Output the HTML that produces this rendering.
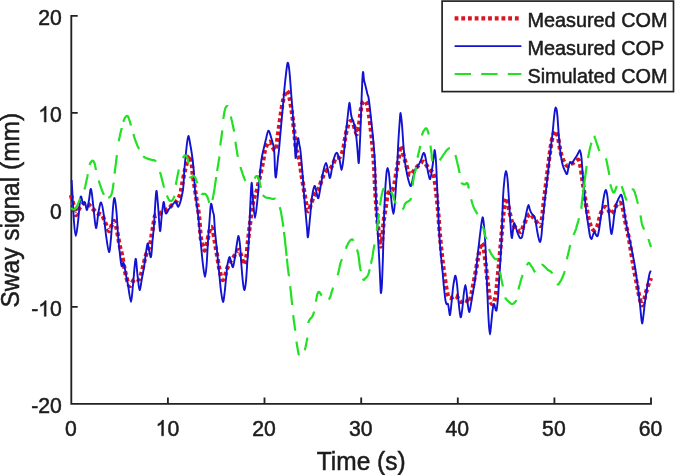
<!DOCTYPE html>
<html><head><meta charset="utf-8">
<style>
html,body{margin:0;padding:0;background:#fff;}
body{width:675px;height:475px;overflow:hidden;}
svg{display:block;will-change:transform;}
text{font-family:"Liberation Sans",sans-serif;fill:#1c1c1c;stroke:#1c1c1c;stroke-width:0.5px;}
</style></head><body>
<svg width="675" height="475" viewBox="0 0 675 475">
<rect width="675" height="475" fill="#fff"/>
<!-- axes -->
<g stroke="#222" stroke-width="1.85" fill="none">
<path d="M71.3,14.97V403.8H651.92" stroke-linejoin="miter"/>
<path d="M71.3,15.9h6.4M71.3,112.9h6.4M71.3,209.9h6.4M71.3,306.8h6.4"/>
<path d="M167.9,403.8v-6.4M264.5,403.8v-6.4M361.2,403.8v-6.4M457.8,403.8v-6.4M554.4,403.8v-6.4M651.0,403.8v-6.4"/>
</g>
<text transform="translate(61.8 24.8) scale(1 1.06)" font-size="21.2" text-anchor="end">20</text>
<text transform="translate(61.8 122.0) scale(1 1.06)" font-size="21.2" text-anchor="end">0</text>
<path d="M763 0H583V-1147Q518-1085 412.5-1023Q307-961 223-930V-1104Q374-1175 487-1276Q600-1377 647-1472H763Z" transform="translate(38.22 121.98) scale(0.01035 0.01066)" fill="#1c1c1c" stroke="#1c1c1c" stroke-width="48.3"/>
<text transform="translate(61.8 219.2) scale(1 1.06)" font-size="21.2" text-anchor="end">0</text>
<text transform="translate(61.8 316.3) scale(1 1.06)" font-size="21.2" text-anchor="end">0</text>
<path d="M763 0H583V-1147Q518-1085 412.5-1023Q307-961 223-930V-1104Q374-1175 487-1276Q600-1377 647-1472H763Z" transform="translate(38.22 316.32) scale(0.01035 0.01066)" fill="#1c1c1c" stroke="#1c1c1c" stroke-width="48.3"/>
<text transform="translate(38.2 316.3) scale(1 1.06)" font-size="21.2" text-anchor="end">-</text>
<text transform="translate(61.8 413.2) scale(1 1.06)" font-size="21.2" text-anchor="end">-20</text>
<text transform="translate(70.8 435.8) scale(1 1.06)" font-size="21.2" text-anchor="middle">0</text>
<path d="M763 0H583V-1147Q518-1085 412.5-1023Q307-961 223-930V-1104Q374-1175 487-1276Q600-1377 647-1472H763Z" transform="translate(155.63 435.80) scale(0.01035 0.01066)" fill="#1c1c1c" stroke="#1c1c1c" stroke-width="48.3"/>
<text transform="translate(167.4 435.8) scale(1 1.06)" font-size="21.2" text-anchor="start">0</text>
<text transform="translate(264.0 435.8) scale(1 1.06)" font-size="21.2" text-anchor="middle">20</text>
<text transform="translate(360.7 435.8) scale(1 1.06)" font-size="21.2" text-anchor="middle">30</text>
<text transform="translate(457.3 435.8) scale(1 1.06)" font-size="21.2" text-anchor="middle">40</text>
<text transform="translate(553.9 435.8) scale(1 1.06)" font-size="21.2" text-anchor="middle">50</text>
<text transform="translate(650.5 435.8) scale(1 1.06)" font-size="21.2" text-anchor="middle">60</text>
<text transform="translate(361.2 470.3) scale(1 1.045)" font-size="24.5" text-anchor="middle">Time (s)</text>
<text transform="translate(19.3 210.2) rotate(-90) scale(1 1.045)" font-size="24.5" text-anchor="middle">Sway signal (mm)</text>
<!-- curves -->
<g fill="none" stroke-linejoin="round">
<path d="M71.0,195.0C71.3,196.3 72.2,199.7 73.0,203.0C73.8,206.3 74.6,214.0 75.6,215.0C76.6,216.0 77.8,210.8 79.0,209.0C80.2,207.2 81.7,205.0 83.0,204.0C84.3,203.0 85.5,202.3 87.0,203.0C88.5,203.7 90.3,206.3 92.0,208.0C93.7,209.7 95.3,211.8 97.0,213.0C98.7,214.2 100.7,213.5 102.0,215.0C103.3,216.5 103.8,219.3 105.0,222.0C106.2,224.7 107.9,230.3 109.0,231.0C110.1,231.7 110.7,227.7 111.5,226.0C112.3,224.3 113.2,221.0 114.0,221.0C114.8,221.0 115.3,223.5 116.0,226.0C116.7,228.5 117.4,232.8 118.0,236.0C118.6,239.2 118.9,241.8 119.6,245.0C120.3,248.2 121.1,250.7 122.0,255.0C122.9,259.3 124.0,266.3 125.0,271.0C126.0,275.7 127.2,280.5 128.0,283.0C128.8,285.5 129.2,286.2 130.0,286.0C130.8,285.8 131.7,283.2 132.5,282.0C133.3,280.8 134.1,279.4 135.0,279.0C135.9,278.6 137.2,279.7 138.0,279.5C138.8,279.3 139.2,280.1 140.0,278.0C140.8,275.9 142.0,270.8 143.0,267.0C144.0,263.2 144.8,258.7 146.0,255.0C147.2,251.3 149.0,248.7 150.0,245.0C151.0,241.3 151.4,236.5 152.0,233.0C152.6,229.5 153.0,226.8 153.5,224.0C154.0,221.2 154.4,217.6 155.0,216.0C155.6,214.4 156.3,214.9 157.0,214.6C157.7,214.3 158.0,215.0 159.0,214.4C160.0,213.8 161.5,211.9 163.0,211.0C164.5,210.1 166.5,210.0 168.0,209.0C169.5,208.0 170.7,206.2 172.0,205.0C173.3,203.8 174.7,203.7 176.0,202.0C177.3,200.3 179.0,197.8 180.0,195.0C181.0,192.2 181.2,189.2 182.0,185.0C182.8,180.8 184.0,174.3 185.0,170.0C186.0,165.7 187.2,161.3 188.0,159.0C188.8,156.7 189.3,154.8 190.0,156.0C190.7,157.2 191.5,162.7 192.0,166.0C192.5,169.3 192.3,171.0 193.0,176.0C193.7,181.0 195.0,189.3 196.0,196.0C197.0,202.7 198.2,208.8 199.0,216.0C199.8,223.2 200.2,233.5 201.0,239.0C201.8,244.5 203.3,247.2 204.0,249.0C204.7,250.8 204.5,251.0 205.0,250.0C205.5,249.0 206.3,245.8 207.0,243.0C207.7,240.2 208.3,235.7 209.0,233.0C209.7,230.3 210.3,227.3 211.0,227.0C211.7,226.7 212.3,228.3 213.0,231.0C213.7,233.7 214.3,239.0 215.0,243.0C215.7,247.0 216.3,251.0 217.0,255.0C217.7,259.0 218.3,263.5 219.0,267.0C219.7,270.5 220.3,273.8 221.0,276.0C221.7,278.2 222.3,280.0 223.0,280.0C223.7,280.0 224.3,277.8 225.0,276.0C225.7,274.2 226.2,271.3 227.0,269.0C227.8,266.7 229.0,263.8 230.0,262.0C231.0,260.2 232.0,259.5 233.0,258.0C234.0,256.5 235.1,254.3 236.0,253.0C236.9,251.7 237.8,249.7 238.6,250.0C239.4,250.3 240.2,252.8 241.0,255.0C241.8,257.2 242.7,261.5 243.4,263.0C244.1,264.5 244.5,265.3 245.0,264.0C245.5,262.7 246.1,258.8 246.6,255.0C247.1,251.2 247.5,245.3 248.0,241.0C248.5,236.7 249.0,232.5 249.4,229.0C249.8,225.5 250.1,223.5 250.5,220.0C250.9,216.5 251.4,211.7 252.0,208.0C252.6,204.3 253.2,201.0 254.0,198.0C254.8,195.0 256.0,193.7 257.0,190.0C258.0,186.3 259.0,180.7 260.0,176.0C261.0,171.3 262.2,166.3 263.0,162.0C263.8,157.7 264.2,153.2 265.0,150.0C265.8,146.8 267.2,144.3 268.0,143.0C268.8,141.7 269.3,141.5 270.0,142.0C270.7,142.5 271.2,144.7 272.0,146.0C272.8,147.3 273.8,149.5 274.5,150.0C275.2,150.5 275.5,150.8 276.0,149.0C276.5,147.2 276.9,142.7 277.4,139.0C277.9,135.3 278.4,131.3 279.0,127.0C279.6,122.7 280.3,117.7 281.0,113.0C281.7,108.3 282.6,102.5 283.4,99.0C284.2,95.5 285.3,93.3 286.0,92.0C286.7,90.7 286.8,90.2 287.4,91.0C288.0,91.8 288.7,94.0 289.4,97.0C290.1,100.0 290.8,105.0 291.4,109.0C292.0,113.0 292.5,116.7 293.0,121.0C293.5,125.3 294.1,130.3 294.6,135.0C295.1,139.7 295.4,145.8 296.0,149.0C296.6,152.2 297.3,151.5 298.0,154.0C298.7,156.5 299.3,160.0 300.0,164.0C300.7,168.0 301.2,173.0 302.0,178.0C302.8,183.0 303.8,189.0 304.6,194.0C305.4,199.0 306.3,205.2 307.0,208.0C307.7,210.8 307.9,211.7 308.6,211.0C309.3,210.3 310.1,206.5 311.0,204.0C311.9,201.5 313.0,198.2 314.0,196.0C315.0,193.8 316.2,192.3 317.0,191.0C317.8,189.7 318.3,189.5 319.0,188.0C319.7,186.5 320.2,184.3 321.0,182.0C321.8,179.7 323.0,176.0 324.0,174.0C325.0,172.0 326.0,170.8 327.0,170.0C328.0,169.2 329.0,170.0 330.0,169.0C331.0,168.0 332.0,165.8 333.0,164.0C334.0,162.2 334.8,159.2 336.0,158.0C337.2,156.8 338.8,158.3 340.0,157.0C341.2,155.7 342.2,153.0 343.0,150.0C343.8,147.0 344.3,142.5 345.0,139.0C345.7,135.5 346.3,131.7 347.0,129.0C347.7,126.3 348.3,124.3 349.0,123.0C349.7,121.7 350.3,121.0 351.0,121.0C351.7,121.0 352.3,121.7 353.0,123.0C353.7,124.3 354.3,127.2 355.0,129.0C355.7,130.8 356.3,134.7 357.0,134.0C357.7,133.3 358.4,128.5 359.0,125.0C359.6,121.5 359.9,116.5 360.4,113.0C360.9,109.5 361.3,106.0 362.0,104.0C362.7,102.0 363.6,101.0 364.4,101.0C365.2,101.0 366.2,101.7 367.0,104.0C367.8,106.3 368.3,110.5 369.0,115.0C369.7,119.5 370.4,126.0 371.0,131.0C371.6,136.0 372.0,140.3 372.4,145.0C372.8,149.7 373.3,154.5 373.6,159.0C373.9,163.5 374.2,167.5 374.4,172.0C374.6,176.5 374.7,180.0 375.0,186.0C375.3,192.0 375.9,201.3 376.4,208.0C376.9,214.7 377.5,220.8 378.0,226.0C378.5,231.2 379.1,235.6 379.6,239.0C380.1,242.4 380.5,246.8 381.0,246.5C381.5,246.2 382.0,241.1 382.4,237.0C382.8,232.9 383.1,226.8 383.6,222.0C384.1,217.2 384.9,212.5 385.6,208.0C386.3,203.5 386.9,197.8 387.6,195.0C388.3,192.2 389.2,191.8 390.0,191.0C390.8,190.2 391.7,191.2 392.4,190.0C393.1,188.8 393.7,187.0 394.4,184.0C395.1,181.0 395.7,176.0 396.4,172.0C397.1,168.0 397.7,164.2 398.4,160.0C399.1,155.8 399.8,148.3 400.4,146.5C401.0,144.7 401.4,147.2 402.0,149.0C402.6,150.8 403.3,154.5 404.0,157.0C404.7,159.5 405.3,161.5 406.0,164.0C406.7,166.5 407.7,170.2 408.4,172.0C409.1,173.8 409.6,175.0 410.4,175.0C411.2,175.0 412.1,173.2 413.0,172.0C413.9,170.8 415.0,169.2 416.0,168.0C417.0,166.8 418.0,166.0 419.0,165.0C420.0,164.0 421.1,162.5 422.0,162.0C422.9,161.5 423.6,161.3 424.4,162.0C425.2,162.7 426.1,164.7 427.0,166.0C427.9,167.3 429.1,169.0 430.0,170.0C430.9,171.0 431.7,171.0 432.4,172.0C433.1,173.0 433.5,173.5 434.0,176.0C434.5,178.5 435.1,183.0 435.6,187.0C436.1,191.0 436.5,195.3 437.0,200.0C437.5,204.7 437.9,209.0 438.4,215.0C438.9,221.0 439.4,229.2 440.0,236.0C440.6,242.8 441.3,250.0 442.0,256.0C442.7,262.0 443.3,267.0 444.0,272.0C444.7,277.0 445.3,282.0 446.0,286.0C446.7,290.0 447.3,294.0 448.0,296.0C448.7,298.0 449.2,297.8 450.0,298.0C450.8,298.2 452.0,297.4 453.0,297.0C454.0,296.6 455.0,295.0 456.0,295.5C457.0,296.0 458.2,298.9 459.0,300.0C459.8,301.1 460.2,302.0 461.0,302.0C461.8,302.0 463.0,300.2 464.0,300.0C465.0,299.8 466.1,300.7 467.0,301.0C467.9,301.3 468.7,303.2 469.4,302.0C470.1,300.8 470.7,297.0 471.4,294.0C472.1,291.0 472.6,288.0 473.4,284.0C474.2,280.0 475.2,274.3 476.0,270.0C476.8,265.7 477.3,261.7 478.0,258.0C478.7,254.3 479.3,250.5 480.0,248.0C480.7,245.5 481.3,242.7 482.0,243.0C482.7,243.3 483.4,246.8 484.0,250.0C484.6,253.2 484.9,257.7 485.4,262.0C485.9,266.3 486.5,271.3 487.0,276.0C487.5,280.7 488.1,286.0 488.6,290.0C489.1,294.0 489.4,297.7 490.0,300.0C490.6,302.3 491.3,303.7 492.0,304.0C492.7,304.3 493.3,303.7 494.0,302.0C494.7,300.3 495.4,297.7 496.0,294.0C496.6,290.3 496.9,285.0 497.4,280.0C497.9,275.0 498.5,269.7 499.0,264.0C499.5,258.3 500.1,251.7 500.6,246.0C501.1,240.3 501.5,235.3 502.0,230.0C502.5,224.7 502.9,218.7 503.4,214.0C503.9,209.3 504.5,204.7 505.0,202.0C505.5,199.3 505.9,197.7 506.4,198.0C506.9,198.3 507.4,201.3 508.0,204.0C508.6,206.7 509.3,211.0 510.0,214.0C510.7,217.0 511.2,219.8 512.0,222.0C512.8,224.2 514.0,225.7 515.0,227.0C516.0,228.3 517.0,229.2 518.0,230.0C519.0,230.8 520.2,232.5 521.0,232.0C521.8,231.5 522.3,228.7 523.0,227.0C523.7,225.3 524.3,223.7 525.0,222.0C525.7,220.3 526.2,218.3 527.0,217.0C527.8,215.7 529.0,214.0 530.0,214.0C531.0,214.0 532.0,215.8 533.0,217.0C534.0,218.2 535.0,219.7 536.0,221.0C537.0,222.3 538.2,224.3 539.0,225.0C539.8,225.7 540.3,226.4 540.8,225.4C541.3,224.4 541.6,222.1 542.0,219.0C542.4,215.9 542.7,211.6 543.2,207.0C543.7,202.4 544.4,197.2 545.1,191.5C545.8,185.8 546.6,178.7 547.4,172.6C548.1,166.5 549.0,159.6 549.6,155.0C550.2,150.4 550.6,147.8 551.0,145.0C551.4,142.2 551.8,140.3 552.2,138.5C552.6,136.7 553.0,135.4 553.4,134.3C553.8,133.2 554.2,132.5 554.6,132.0C555.0,131.5 555.2,130.6 555.8,131.4C556.4,132.2 557.3,134.1 558.0,137.0C558.7,139.9 559.3,145.7 560.0,149.0C560.7,152.3 561.2,154.8 562.0,157.0C562.8,159.2 563.6,161.0 564.5,162.5C565.4,164.0 566.6,165.7 567.5,166.0C568.4,166.3 569.1,165.0 570.0,164.5C570.9,164.0 572.0,163.6 573.0,163.0C574.0,162.4 575.1,161.5 576.0,161.0C576.9,160.5 577.9,159.2 578.6,160.0C579.3,160.8 579.8,163.2 580.4,166.0C581.0,168.8 581.5,173.3 582.0,177.0C582.5,180.7 583.0,183.8 583.6,188.0C584.2,192.2 584.9,197.7 585.6,202.0C586.3,206.3 586.9,210.3 587.6,214.0C588.3,217.7 589.2,221.5 590.0,224.0C590.8,226.5 591.7,228.0 592.4,229.0C593.1,230.0 593.6,230.3 594.4,230.0C595.2,229.7 596.2,228.7 597.0,227.0C597.8,225.3 598.3,222.3 599.0,220.0C599.7,217.7 600.2,215.0 601.0,213.0C601.8,211.0 602.8,209.0 603.6,208.0C604.4,207.0 605.2,206.7 606.0,207.0C606.8,207.3 607.6,208.8 608.4,210.0C609.2,211.2 610.1,213.8 611.0,214.0C611.9,214.2 612.8,212.3 613.6,211.0C614.4,209.7 615.2,207.3 616.0,206.0C616.8,204.7 617.7,203.5 618.4,203.0C619.1,202.5 619.7,202.3 620.4,203.0C621.1,203.7 621.7,204.8 622.4,207.0C623.1,209.2 623.8,212.8 624.4,216.0C625.0,219.2 625.4,222.2 626.2,226.0C627.0,229.8 628.1,234.2 629.0,239.0C629.9,243.8 630.8,250.0 631.6,255.0C632.4,260.0 633.1,264.0 634.0,269.0C634.9,274.0 636.2,280.7 637.0,285.0C637.8,289.3 638.3,292.0 639.0,295.0C639.7,298.0 640.4,301.3 641.0,303.0C641.6,304.7 641.8,305.7 642.4,305.0C643.0,304.3 643.6,301.7 644.4,299.0C645.2,296.3 646.2,291.7 647.0,289.0C647.8,286.3 648.3,284.8 649.0,283.0C649.7,281.2 650.7,278.8 651.0,278.0" stroke="#dc1420" stroke-width="4.3" stroke-dasharray="3.8 2.8"/>
<path d="M71.6,180.0C71.8,182.5 72.1,188.0 72.5,195.0C72.9,202.0 73.5,215.2 74.0,222.0C74.5,228.8 75.1,236.0 75.8,236.0C76.5,236.0 77.2,228.5 78.0,222.0C78.8,215.5 79.8,200.0 80.6,197.0C81.4,194.0 82.3,203.1 83.0,204.0C83.7,204.9 84.3,201.5 85.0,202.5C85.7,203.5 86.3,210.4 87.0,210.0C87.7,209.6 88.3,203.5 89.0,200.0C89.7,196.5 90.2,187.7 91.0,189.0C91.8,190.3 92.7,201.5 93.5,208.0C94.3,214.5 95.2,227.3 96.0,228.0C96.8,228.7 97.7,216.2 98.5,212.0C99.3,207.8 100.2,202.3 101.0,202.5C101.8,202.7 102.7,207.6 103.5,213.0C104.3,218.4 105.1,228.5 106.0,235.0C106.9,241.5 108.2,251.5 109.0,252.0C109.8,252.5 110.3,245.3 111.0,238.0C111.7,230.7 112.4,214.7 113.0,208.0C113.6,201.3 114.0,197.3 114.6,198.0C115.2,198.7 115.9,205.8 116.5,212.0C117.1,218.2 117.4,227.8 118.0,235.0C118.6,242.2 119.4,249.8 120.0,255.0C120.6,260.2 121.0,264.7 121.6,266.0C122.2,267.3 122.9,261.5 123.6,263.0C124.3,264.5 125.3,271.3 126.0,275.0C126.7,278.7 127.2,280.5 128.0,285.0C128.8,289.5 130.2,302.0 131.0,302.0C131.8,302.0 132.2,292.2 133.0,285.0C133.8,277.8 134.8,260.7 135.6,259.0C136.3,257.3 136.8,269.8 137.5,275.0C138.2,280.2 138.8,289.5 139.6,290.0C140.3,290.5 141.3,281.8 142.0,278.0C142.7,274.2 143.1,272.7 144.0,267.0C144.9,261.3 146.6,246.8 147.4,244.0C148.2,241.2 148.4,247.8 149.0,250.0C149.6,252.2 150.4,258.5 151.0,257.0C151.6,255.5 152.0,246.3 152.5,241.0C153.0,235.7 153.5,231.8 154.0,225.0C154.5,218.2 155.1,205.7 155.5,200.0C155.9,194.3 156.2,190.2 156.6,191.0C157.0,191.8 157.4,198.3 158.0,205.0C158.6,211.7 159.4,229.3 160.0,231.0C160.6,232.7 161.2,219.8 161.8,215.0C162.4,210.2 163.1,202.8 163.6,202.0C164.1,201.2 164.6,208.1 165.0,210.0C165.4,211.9 165.5,213.7 166.2,213.5C166.9,213.3 168.0,210.3 169.0,209.0C170.0,207.7 170.9,206.6 172.0,205.4C173.1,204.2 174.8,201.4 175.8,201.7C176.8,201.9 177.3,206.8 178.0,206.9C178.7,207.0 179.5,204.4 180.2,202.4C180.9,200.4 181.5,197.6 182.0,195.0C182.5,192.4 182.9,191.7 183.3,187.0C183.7,182.3 184.0,174.0 184.6,167.0C185.2,160.0 186.2,150.2 186.8,145.0C187.4,139.8 187.9,136.3 188.4,136.0C188.9,135.7 189.4,139.8 190.0,143.0C190.6,146.2 191.4,150.7 192.0,155.0C192.6,159.3 193.1,163.2 193.6,169.0C194.1,174.8 194.3,182.5 195.0,190.0C195.7,197.5 197.0,204.8 198.0,214.0C199.0,223.2 200.2,236.5 201.0,245.0C201.8,253.5 202.3,259.7 203.0,265.0C203.7,270.3 204.4,277.0 205.0,277.0C205.6,277.0 206.1,271.0 206.6,265.0C207.1,259.0 207.5,248.2 208.0,241.0C208.5,233.8 208.9,228.2 209.4,222.0C209.9,215.8 210.4,205.7 211.0,204.0C211.6,202.3 212.5,210.0 213.0,212.0C213.5,214.0 213.7,212.8 214.0,216.0C214.3,219.2 214.5,225.2 215.0,231.0C215.5,236.8 216.3,244.3 217.0,251.0C217.7,257.7 218.3,264.3 219.0,271.0C219.7,277.7 220.3,285.8 221.0,291.0C221.7,296.2 222.4,301.7 223.0,302.0C223.6,302.3 224.1,296.8 224.6,293.0C225.1,289.2 225.5,283.7 226.0,279.0C226.5,274.3 226.8,268.7 227.4,265.0C228.0,261.3 228.7,257.3 229.4,257.0C230.1,256.7 230.8,261.3 231.4,263.0C232.0,264.7 232.4,268.0 233.0,267.0C233.6,266.0 234.3,261.0 235.0,257.0C235.7,253.0 236.4,246.5 237.0,243.0C237.6,239.5 238.1,235.7 238.6,236.0C239.1,236.3 239.5,240.2 240.0,245.0C240.5,249.8 240.9,258.7 241.4,265.0C241.9,271.3 242.5,278.8 243.0,283.0C243.5,287.2 244.1,290.3 244.6,290.0C245.1,289.7 245.5,285.8 246.0,281.0C246.5,276.2 246.9,268.3 247.4,261.0C247.9,253.7 248.6,245.2 249.0,237.0C249.4,228.8 249.6,221.0 250.0,212.0C250.4,203.0 251.1,185.0 251.6,183.0C252.1,181.0 252.4,194.2 253.0,200.0C253.6,205.8 254.3,218.0 255.0,218.0C255.7,218.0 256.7,206.3 257.4,200.0C258.1,193.7 258.7,186.7 259.4,180.0C260.1,173.3 260.7,165.0 261.4,160.0C262.1,155.0 262.6,153.5 263.4,150.0C264.2,146.5 265.2,142.2 266.0,139.0C266.8,135.8 267.6,130.9 268.4,130.6C269.2,130.3 270.1,133.9 271.0,137.0C271.9,140.1 273.3,143.5 274.0,149.0C274.7,154.5 274.7,165.3 275.0,170.0C275.3,174.7 275.5,179.0 276.0,177.0C276.5,175.0 277.5,162.5 278.0,158.0C278.5,153.5 278.5,155.2 279.0,150.0C279.5,144.8 280.3,134.5 281.0,127.0C281.7,119.5 282.3,112.3 283.0,105.0C283.7,97.7 284.3,89.5 285.0,83.0C285.7,76.5 286.5,69.3 287.0,66.0C287.5,62.7 287.6,62.2 288.0,63.0C288.4,63.8 288.9,66.3 289.4,71.0C289.9,75.7 290.4,83.3 291.0,91.0C291.6,98.7 292.4,109.0 293.0,117.0C293.6,125.0 294.2,132.2 294.6,139.0C295.0,145.8 295.2,156.8 295.6,158.0C296.0,159.2 296.6,149.3 297.0,146.0C297.4,142.7 297.6,138.2 298.0,138.0C298.4,137.8 299.0,142.7 299.4,145.0C299.8,147.3 300.0,146.2 300.6,152.0C301.2,157.8 302.3,171.0 303.0,180.0C303.7,189.0 304.3,198.0 305.0,206.0C305.7,214.0 306.5,222.8 307.0,228.0C307.5,233.2 307.5,238.7 308.0,237.0C308.5,235.3 309.3,224.7 310.0,218.0C310.7,211.3 311.2,202.3 312.0,197.0C312.8,191.7 313.9,186.8 314.6,186.0C315.3,185.2 315.8,190.0 316.4,192.0C317.0,194.0 317.6,199.3 318.4,198.0C319.2,196.7 320.1,188.7 321.0,184.0C321.9,179.3 322.8,173.5 323.6,170.0C324.4,166.5 325.3,163.0 326.0,163.0C326.7,163.0 327.3,167.5 328.0,170.0C328.7,172.5 329.3,178.3 330.0,178.0C330.7,177.7 331.3,171.5 332.0,168.0C332.7,164.5 333.6,159.5 334.4,157.0C335.2,154.5 336.1,152.3 337.0,152.8C337.9,153.3 338.8,157.1 339.6,160.0C340.4,162.9 341.0,170.0 341.6,170.0C342.2,170.0 342.7,164.8 343.3,160.0C343.9,155.2 344.4,147.2 345.0,141.0C345.6,134.8 346.4,128.2 347.0,123.0C347.6,117.8 348.0,113.4 348.4,110.0C348.8,106.6 349.1,103.1 349.4,102.8C349.7,102.5 350.0,106.1 350.3,108.0C350.6,109.9 350.7,112.2 351.0,114.0C351.3,115.8 351.6,117.3 352.0,118.5C352.4,119.7 352.8,119.6 353.2,121.0C353.6,122.4 354.2,124.3 354.7,127.0C355.2,129.7 355.8,133.2 356.3,137.0C356.8,140.8 357.1,145.7 357.5,150.0C357.9,154.3 358.4,164.5 358.8,163.0C359.2,161.5 359.6,149.0 360.0,141.0C360.4,133.0 360.7,123.9 361.0,115.0C361.3,106.1 361.7,95.0 362.0,87.8C362.3,80.6 362.7,73.3 363.0,72.0C363.3,70.7 363.7,78.0 364.0,80.0C364.3,82.0 364.7,82.7 365.0,84.0C365.3,85.3 365.6,86.3 366.0,88.0C366.4,89.7 367.0,92.3 367.4,94.0C367.8,95.7 368.2,95.5 368.6,98.0C369.0,100.5 369.4,104.0 370.0,109.0C370.6,114.0 371.4,122.2 372.0,128.0C372.6,133.8 373.1,137.8 373.6,144.0C374.1,150.2 374.6,155.7 375.0,165.0C375.4,174.3 375.6,189.2 376.0,200.0C376.4,210.8 377.1,220.8 377.6,230.0C378.1,239.2 378.5,245.8 379.0,255.0C379.5,264.2 380.1,278.7 380.4,285.0C380.7,291.3 380.7,293.3 381.0,293.0C381.3,292.7 381.7,289.3 382.0,283.0C382.3,276.7 382.7,264.7 383.0,255.0C383.3,245.3 383.5,235.2 383.8,225.0C384.1,214.8 384.6,202.5 385.0,194.0C385.4,185.5 386.0,178.3 386.4,174.0C386.8,169.7 387.2,168.0 387.6,168.0C388.0,168.0 388.5,170.3 389.0,174.0C389.5,177.7 389.9,184.7 390.4,190.0C390.9,195.3 391.5,202.0 392.0,206.0C392.5,210.0 393.0,214.0 393.4,214.0C393.8,214.0 394.2,210.7 394.6,206.0C395.0,201.3 395.5,193.3 396.0,186.0C396.5,178.7 397.0,169.5 397.4,162.0C397.8,154.5 398.0,147.5 398.4,141.0C398.8,134.5 399.2,127.7 399.6,123.0C400.0,118.3 400.2,112.7 400.6,113.0C401.0,113.3 401.5,119.7 402.0,125.0C402.5,130.3 402.9,138.8 403.4,145.0C403.9,151.2 404.4,157.2 405.0,162.0C405.6,166.8 406.3,170.7 407.0,174.0C407.7,177.3 408.3,180.0 409.0,182.0C409.7,184.0 410.3,186.7 411.0,186.0C411.7,185.3 412.3,180.7 413.0,178.0C413.7,175.3 414.2,172.0 415.0,170.0C415.8,168.0 417.0,167.7 418.0,166.0C419.0,164.3 420.1,162.2 421.0,160.0C421.9,157.8 422.8,153.3 423.6,153.0C424.4,152.7 424.9,154.8 425.6,158.0C426.3,161.2 427.2,168.5 428.0,172.0C428.8,175.5 429.5,179.8 430.2,179.0C430.9,178.2 431.8,171.0 432.4,167.0C433.0,163.0 433.6,157.8 434.0,155.0C434.4,152.2 434.4,148.8 434.8,150.5C435.2,152.2 435.8,157.6 436.2,165.0C436.6,172.4 437.0,183.8 437.5,195.0C438.0,206.2 438.6,221.8 439.2,232.0C439.8,242.2 440.4,249.3 441.0,256.0C441.6,262.7 442.1,266.7 442.6,272.0C443.1,277.3 443.5,283.3 444.0,288.0C444.5,292.7 445.0,297.3 445.4,300.0C445.8,302.7 446.2,303.3 446.6,304.0C447.0,304.7 447.6,303.0 448.0,304.0C448.4,305.0 448.7,308.2 449.0,310.0C449.3,311.8 449.6,316.0 450.0,315.0C450.4,314.0 450.9,308.5 451.4,304.0C451.9,299.5 452.5,292.3 453.0,288.0C453.5,283.7 454.2,280.0 454.6,278.0C455.0,276.0 455.2,275.0 455.6,276.0C456.0,277.0 456.5,279.7 457.0,284.0C457.5,288.3 458.1,297.0 458.6,302.0C459.1,307.0 459.6,311.5 460.0,314.0C460.4,316.5 460.6,318.0 461.0,317.0C461.4,316.0 461.9,312.2 462.4,308.0C462.9,303.8 463.5,295.8 464.0,292.0C464.5,288.2 465.0,285.0 465.4,285.0C465.8,285.0 466.2,288.5 466.6,292.0C467.0,295.5 467.5,302.7 468.0,306.0C468.5,309.3 468.9,312.3 469.4,312.0C469.9,311.7 470.4,307.3 471.0,304.0C471.6,300.7 472.3,296.0 473.0,292.0C473.7,288.0 474.4,284.3 475.0,280.0C475.6,275.7 476.1,270.7 476.6,266.0C477.1,261.3 477.5,256.3 478.0,252.0C478.5,247.7 479.0,243.7 479.4,240.0C479.8,236.3 480.2,233.3 480.6,230.0C481.0,226.7 481.6,222.0 482.0,220.0C482.4,218.0 482.6,216.3 483.0,218.0C483.4,219.7 484.0,225.5 484.4,230.0C484.8,234.5 485.1,240.0 485.4,245.0C485.7,250.0 485.7,253.5 486.0,260.0C486.3,266.5 486.7,276.0 487.0,284.0C487.3,292.0 487.7,301.0 488.0,308.0C488.3,315.0 488.7,321.6 489.0,326.0C489.3,330.4 489.7,334.5 490.0,334.5C490.3,334.5 490.6,330.1 491.0,326.0C491.4,321.9 492.1,313.7 492.6,310.0C493.1,306.3 493.5,304.2 494.0,304.0C494.5,303.8 495.0,308.0 495.4,309.0C495.8,310.0 496.2,311.8 496.6,310.0C497.0,308.2 497.5,303.7 498.0,298.0C498.5,292.3 498.9,284.0 499.4,276.0C499.9,268.0 500.6,258.0 501.0,250.0C501.4,242.0 501.7,236.7 502.0,228.0C502.3,219.3 502.6,206.3 503.0,198.0C503.4,189.7 504.1,182.5 504.6,178.0C505.1,173.5 505.5,171.0 506.0,171.0C506.5,171.0 507.0,174.2 507.4,178.0C507.8,181.8 508.2,187.7 508.6,194.0C509.0,200.3 509.6,209.7 510.0,216.0C510.4,222.3 510.7,228.3 511.0,232.0C511.3,235.7 511.7,238.3 512.0,238.0C512.3,237.7 512.7,232.5 513.0,230.0C513.3,227.5 513.5,223.3 514.0,223.0C514.5,222.7 515.3,226.2 516.0,228.0C516.7,229.8 517.3,232.3 518.0,234.0C518.7,235.7 519.3,237.5 520.0,238.0C520.7,238.5 521.4,238.3 522.0,237.0C522.6,235.7 522.9,232.8 523.4,230.0C523.9,227.2 524.4,223.3 525.0,220.0C525.6,216.7 526.4,212.5 527.0,210.0C527.6,207.5 528.1,205.0 528.6,205.0C529.1,205.0 529.4,208.5 530.0,210.0C530.6,211.5 531.3,213.0 532.0,214.0C532.7,215.0 533.4,215.0 534.0,216.0C534.6,217.0 534.9,217.7 535.4,220.0C535.9,222.3 536.5,227.0 537.0,230.0C537.5,233.0 538.1,236.0 538.6,238.0C539.1,240.0 539.7,242.3 540.2,242.0C540.7,241.7 541.0,239.3 541.4,236.0C541.8,232.7 542.2,226.7 542.6,222.0C543.0,217.3 543.5,213.1 544.0,208.0C544.5,202.9 545.3,196.0 545.8,191.5C546.3,187.0 546.6,184.7 547.0,181.0C547.4,177.3 547.9,173.1 548.3,169.4C548.7,165.7 549.1,162.2 549.5,159.0C549.9,155.8 550.1,153.5 550.5,150.5C550.9,147.5 551.2,144.2 551.6,141.0C552.0,137.8 552.4,134.8 552.7,131.5C553.1,128.2 553.4,124.2 553.7,121.0C554.0,117.8 554.3,114.9 554.6,112.6C554.9,110.3 555.2,107.5 555.6,107.4C556.0,107.3 556.6,109.2 557.0,112.0C557.4,114.8 557.7,119.7 558.0,124.0C558.3,128.3 558.6,133.3 559.0,138.0C559.4,142.7 559.8,147.7 560.4,152.0C561.0,156.3 561.6,160.8 562.4,164.0C563.2,167.2 564.2,169.3 565.0,171.0C565.8,172.7 566.4,174.5 567.0,174.0C567.6,173.5 567.9,170.0 568.4,168.0C568.9,166.0 569.4,162.8 570.0,162.0C570.6,161.2 571.3,163.8 572.0,163.5C572.7,163.2 573.2,161.3 574.0,160.0C574.8,158.7 576.2,156.9 577.0,155.5C577.8,154.1 578.5,152.3 579.0,151.5C579.5,150.7 579.6,149.7 580.0,150.6C580.4,151.5 581.0,153.8 581.4,157.0C581.8,160.2 582.1,165.8 582.4,170.0C582.7,174.2 583.1,178.0 583.4,182.0C583.7,186.0 583.9,189.0 584.4,194.0C584.9,199.0 585.7,206.7 586.4,212.0C587.1,217.3 587.8,222.0 588.4,226.0C589.0,230.0 589.5,233.8 590.0,236.0C590.5,238.2 591.1,239.2 591.6,239.0C592.1,238.8 592.5,236.2 593.0,235.0C593.5,233.8 593.9,231.5 594.4,231.5C594.9,231.5 595.5,234.2 596.0,235.0C596.5,235.8 597.1,236.8 597.6,236.0C598.1,235.2 598.4,233.3 599.0,230.0C599.6,226.7 600.3,220.7 601.0,216.0C601.7,211.3 602.4,205.7 603.0,202.0C603.6,198.3 603.9,196.0 604.4,194.0C604.9,192.0 605.5,189.3 606.0,190.0C606.5,190.7 607.1,194.0 607.6,198.0C608.1,202.0 608.5,209.0 609.0,214.0C609.5,219.0 610.0,224.7 610.4,228.0C610.8,231.3 611.2,234.3 611.6,234.0C612.0,233.7 612.5,229.3 613.0,226.0C613.5,222.7 613.8,217.7 614.4,214.0C615.0,210.3 615.7,206.5 616.4,204.0C617.1,201.5 617.8,200.3 618.4,199.0C619.0,197.7 619.5,196.7 620.0,196.0C620.5,195.3 620.9,194.2 621.4,195.0C621.9,195.8 622.5,198.2 623.0,201.0C623.5,203.8 623.9,208.3 624.4,212.0C624.9,215.7 625.2,218.8 626.0,223.0C626.8,227.2 628.0,232.3 629.0,237.0C630.0,241.7 631.0,246.0 632.0,251.0C633.0,256.0 634.1,261.3 635.0,267.0C635.9,272.7 636.8,279.3 637.6,285.0C638.4,290.7 639.0,296.0 639.6,301.0C640.2,306.0 640.6,311.2 641.0,315.0C641.4,318.8 641.7,323.3 642.1,323.5C642.5,323.7 643.0,319.1 643.4,316.0C643.8,312.9 644.2,308.5 644.6,305.0C645.0,301.5 645.4,298.8 646.0,295.0C646.6,291.2 647.4,285.6 648.0,282.0C648.6,278.4 649.1,275.4 649.6,273.5C650.1,271.6 650.6,271.2 650.8,270.7" stroke="#1212d2" stroke-width="1.9"/>
<path d="M71.0,208.0L71.2,208.2L71.5,208.4L71.9,208.7L72.3,209.0L72.7,209.3L73.2,209.5L73.6,209.6L74.0,209.6L74.4,209.4L74.8,209.1L75.1,208.8L75.5,208.3L75.9,207.8L76.2,207.3L76.6,206.6L77.0,206.0L77.4,205.3L77.7,204.5L78.1,203.7L78.4,202.9L78.8,202.0L79.2,201.0L79.6,200.0L80.0,199.0L80.2,198.6M84.4,189.5L84.9,187.9L85.3,186.2L85.7,184.3L86.1,182.5L86.5,180.5L86.9,178.7L87.3,176.9L87.6,175.3L87.8,174.3M89.6,165.0L89.8,164.2L90.1,163.6L90.3,163.1L90.5,162.7L90.7,162.4L91.0,162.1L91.2,161.9L91.4,161.6L91.6,161.4L91.8,161.1L92.0,161.0L92.2,160.8L92.4,160.7L92.6,160.7L92.8,160.7L93.0,160.8L93.2,160.9L93.4,161.1L93.6,161.4L93.8,161.7L94.0,162.1L94.2,162.5L94.4,163.0L94.6,163.5L94.8,164.1L94.9,164.7L95.0,165.3L95.2,166.0L95.3,166.8L95.5,167.6L95.7,168.6L95.9,169.6L96.0,170.0M98.8,180.6L98.9,181.0L99.2,182.2L99.6,183.3L99.9,184.3L100.2,185.3L100.5,186.3L100.9,187.2L101.2,188.1L101.5,189.0L101.8,189.9L102.1,190.7L102.5,191.5L102.8,192.2L103.1,193.0L103.4,193.6L103.7,194.2L104.0,194.8M108.2,197.6L108.4,197.6L108.7,197.5L108.9,197.4L109.2,197.3L109.4,197.2L109.7,197.0L109.9,196.8L110.2,196.6L110.4,196.3L110.6,196.0L110.8,195.6L111.0,195.3L111.2,194.9L111.4,194.4L111.6,193.9L111.8,193.2L112.0,192.5L112.2,191.6L112.4,190.7L112.6,189.6L112.8,188.4L113.0,187.2L113.1,186.0L113.3,184.7L113.5,183.5L113.6,182.7M114.6,173.6L114.7,172.7L114.9,171.0L115.1,169.2L115.4,167.3L115.6,165.4L115.9,163.4L116.1,161.4L116.4,159.5L116.6,157.6L116.8,155.7L116.9,155.1M118.7,141.3L119.0,139.8L119.3,138.2L119.7,136.7L120.0,135.2L120.3,133.8L120.7,132.4L121.0,131.0L121.3,129.6L121.7,128.2L121.7,128.0M123.3,121.9L123.6,121.0L123.9,120.1L124.2,119.4L124.5,118.7L124.8,118.1L125.1,117.6L125.4,117.2L125.7,116.8L126.0,116.5L126.3,116.2L126.5,116.1L126.8,115.9L127.0,115.9L127.3,115.9L127.5,116.0L127.8,116.2L128.0,116.5L128.2,116.9L128.5,117.4L128.7,117.9L128.9,118.6L129.2,119.3L129.4,120.1L129.7,121.0L130.0,122.0L130.3,123.1L130.7,124.4L131.0,125.6M133.3,134.0L133.4,134.2L133.8,135.4L134.1,136.6L134.5,137.8L134.9,138.9L135.2,139.9L135.6,141.0L136.0,142.0L136.4,143.0L136.7,143.9L137.1,144.8L137.4,145.6L137.8,146.5L138.2,147.3L138.6,148.1L139.0,149.0L139.1,149.2M143.2,156.2L143.5,156.5L144.0,156.9L144.5,157.3L144.9,157.5L145.4,157.8L145.9,158.0L146.5,158.2L147.0,158.4L147.6,158.6L148.2,158.9L148.8,159.1L149.5,159.2L150.2,159.4L150.8,159.6L151.4,159.8L152.0,160.0L152.5,160.1L153.1,160.2L153.6,160.2L154.1,160.2L154.5,160.4L155.0,160.6L155.5,161.0L156.0,161.6M160.0,172.0L160.5,173.7L161.0,175.5L161.5,177.5L162.0,179.5L162.5,181.5L163.0,183.4L163.5,185.3L164.0,187.0L164.2,187.6M166.9,195.5L167.1,195.9L167.5,197.0L168.0,198.0L168.4,198.8L168.8,199.5L169.2,200.0L169.6,200.4L169.9,200.7L170.3,200.9L170.6,201.0L171.0,201.0L171.4,200.9L171.8,200.7L172.2,200.4L172.6,199.9L173.0,199.4L173.3,198.7L173.7,197.9L174.0,197.0L174.3,195.8L174.3,195.8M175.8,184.8L176.0,183.6L176.2,182.5L176.4,181.5L176.6,180.6L176.8,179.7L176.9,178.8L177.1,177.9L177.3,177.0L177.5,176.1L177.6,175.2L177.8,174.3L178.0,173.4L178.2,172.6L178.3,171.7L178.5,170.9L178.7,170.0L178.8,169.6M182.8,158.0L183.1,157.5L183.4,157.0L183.7,156.6L184.0,156.3L184.3,155.9L184.6,155.7L184.8,155.5L185.1,155.5L185.4,155.5L185.7,155.6L186.0,155.9L186.3,156.2L186.6,156.6L186.9,157.0L187.1,157.6L187.4,158.3L187.6,159.0L187.8,159.9L188.0,160.9L188.1,162.0L188.3,163.2L188.3,163.4M189.8,176.5L190.0,177.0L190.2,177.2L190.4,177.3L190.6,177.3L190.8,177.3L191.0,177.2L191.3,177.1L191.5,177.0L191.7,176.9L192.0,176.8L192.2,176.6L192.5,176.4L192.8,176.2L193.0,176.0L193.3,175.9L193.5,175.9L193.7,176.0L194.0,176.1L194.2,176.3L194.4,176.5L194.6,176.7L194.9,177.1L195.1,177.4L195.3,177.8L195.5,178.2L195.7,178.7L196.0,179.3L196.2,179.9L196.4,180.5L196.6,181.1L196.9,181.9L197.1,182.6L197.3,183.3M201.4,193.5L201.5,193.6L201.8,193.8L202.1,193.9L202.5,193.9L202.8,193.9L203.1,193.8L203.4,193.8L203.7,193.8L204.0,193.8L204.3,193.8L204.5,193.9L204.7,193.9L205.0,193.9L205.2,194.0L205.4,194.1L205.7,194.3L205.9,194.5L206.2,194.8L206.4,195.3L206.7,195.7L207.0,196.2L207.2,196.8L207.5,197.4L207.8,197.9L208.0,198.5L208.2,199.1L208.4,199.7L208.6,200.4L208.8,201.1L209.0,201.7L209.2,202.3L209.4,202.8M212.4,199.9L212.5,199.5L212.7,198.7L212.9,197.9L213.1,197.1L213.2,196.1L213.4,195.2L213.6,194.1L213.8,193.1L214.0,192.0L214.2,190.9L214.4,189.7L214.6,188.4L214.7,187.1L214.9,185.8L215.1,184.5L215.3,183.1L215.5,181.8L215.7,180.5L215.9,179.2L216.1,178.0L216.2,177.0M217.1,171.0L217.4,169.3L217.7,167.6L218.0,165.7L218.3,163.8L218.6,161.8L218.9,160.0L219.2,158.2L219.4,156.5M220.3,145.5L220.5,143.8L220.7,141.9L221.0,140.0L221.3,138.0L221.6,136.0L221.8,134.0L222.1,132.1L222.3,130.4M223.3,119.0L223.5,117.7L223.7,116.3L223.9,115.0L224.1,113.7L224.3,112.5L224.6,111.4L224.8,110.4L225.0,109.5L225.2,108.8L225.4,108.2L225.6,107.7L225.8,107.4L226.0,107.1L226.2,106.8L226.4,106.6L226.6,106.4L226.8,106.2L226.9,106.1L227.1,106.0L227.2,106.0L227.3,106.0L227.5,106.1L227.6,106.2L227.8,106.4L227.9,106.5M230.9,116.5L231.2,118.0L231.6,119.8L232.1,121.8L232.5,123.8L233.0,125.9L233.4,128.0L233.8,129.9L234.1,131.6M235.4,141.7L235.7,143.4L235.9,145.3L236.2,147.3L236.6,149.3L236.9,151.3L237.2,153.3L237.6,155.2L237.9,156.9M240.5,167.0L240.8,168.1L241.1,169.2L241.4,170.2L241.8,171.3L242.1,172.2L242.4,173.2L242.7,174.1L243.0,175.0L243.3,175.9L243.6,176.8L244.0,177.6L244.3,178.4L244.6,179.2L244.9,179.9L245.2,180.5L245.5,180.9M254.4,178.5L254.8,178.1L255.2,177.5L255.5,177.0L255.9,176.5L256.3,176.2L256.7,176.0L257.0,176.0L257.3,176.2L257.6,176.5L257.9,177.0L258.2,177.6L258.5,178.3L258.8,179.1L259.1,180.0L259.4,181.0L259.7,182.2L260.0,183.7L260.3,185.3L260.7,187.1L260.8,187.8M262.9,195.0L263.1,195.2L263.4,195.7L263.8,196.1L264.2,196.4L264.6,196.7L265.0,197.0L265.5,197.3L265.9,197.5L266.4,197.6L266.9,197.7L267.5,197.8L268.0,197.8L268.5,197.9L269.0,198.0L269.5,198.1L270.0,198.3L270.5,198.4L271.1,198.5L271.6,198.7L272.1,198.8L272.5,198.9L273.0,199.0L273.4,199.0L273.8,198.9L274.2,198.8L274.5,198.7L274.8,198.7L275.2,198.7L275.5,198.9M279.7,207.1L280.0,208.0L280.3,209.2L280.6,210.3L280.9,211.5L281.1,212.7L281.3,213.9L281.5,215.2L281.8,216.5L282.0,218.0L282.2,219.5L282.5,221.1L282.8,222.8L283.0,224.5L283.2,226.3L283.3,226.7M284.0,232.0L284.2,234.1L284.5,236.2L284.8,238.4L285.0,240.7L285.2,243.0L285.5,245.3L285.8,247.7L286.0,250.0L286.2,252.3L286.5,254.7L286.6,255.8M286.9,258.7L287.0,259.5L287.2,261.9L287.5,264.3L287.7,266.7L288.0,269.0L288.3,271.3L288.6,273.6L288.9,275.9L288.9,276.2M290.2,286.2L290.3,287.0L290.5,289.1L290.8,291.2L291.0,293.3L291.2,295.3L291.4,297.3L291.6,299.3L291.8,301.2L292.0,303.0L292.2,304.8L292.2,305.0M293.2,315.1L293.3,316.0L293.5,317.6L293.7,319.3L293.9,320.9L294.1,322.6L294.4,324.2L294.6,325.8L294.8,327.4L295.0,329.0L295.2,330.5L295.2,330.7M296.5,341.7L296.6,342.6L296.9,344.4L297.2,346.2L297.5,348.0L297.8,349.8L298.1,351.4L298.3,352.8L298.6,354.0L298.9,354.9L299.0,355.4M304.8,350.2L304.9,349.7L305.3,348.1L305.7,346.4L306.1,344.5L306.5,342.5L306.8,340.6L307.2,338.7L307.3,337.7M308.3,323.0L308.3,322.8L308.4,322.4L308.6,322.0L308.7,321.7L308.8,321.4L309.0,321.0L309.2,320.6L309.3,320.2L309.5,319.9L309.7,319.6L309.9,319.3L310.1,319.0L310.3,318.8L310.5,318.5L310.7,318.3L310.9,318.1L311.0,318.0L311.2,317.9L311.4,317.8L311.6,317.6L311.8,317.3L312.0,317.0L312.2,316.6L312.5,316.1L312.7,315.6L313.0,315.1L313.2,314.5L313.5,313.8L313.7,312.9L314.0,312.0L314.1,311.6M315.9,301.6L316.0,301.0L316.2,299.9L316.4,298.9L316.6,297.9L316.7,296.9L316.9,296.1L317.0,295.3L317.2,294.6L317.4,294.0L317.6,293.5L317.8,293.0L318.0,292.6L318.2,292.3L318.4,292.1L318.7,292.0L318.9,291.9L319.2,292.0L319.5,292.2L319.8,292.6L320.1,293.1L320.5,293.7L320.9,294.3L321.2,294.9L321.6,295.5L321.7,295.6M328.5,299.2L328.5,299.2L329.0,298.9L329.4,298.5L329.8,297.9L330.2,297.1L330.5,296.1L330.8,295.1L331.1,294.0L331.4,292.9L331.7,291.9L332.0,291.0L332.3,290.2L332.5,289.5L332.7,288.9L332.9,288.2L333.1,287.6M337.6,275.3L338.0,274.0L338.3,272.8L338.6,271.5L338.9,270.3L339.1,269.1L339.4,268.0L339.6,266.9L339.8,265.9L340.0,265.0L340.2,264.2L340.4,263.6L340.5,263.1L340.7,262.6L340.8,262.1L341.0,261.6L341.3,260.9L341.6,260.0L341.9,259.1M345.7,248.8L346.1,247.9L346.5,246.9L346.9,245.9L347.4,245.0L347.8,244.1L348.2,243.3L348.6,242.6L349.0,242.0L349.4,241.4L349.8,240.9L350.2,240.5L350.6,240.1L351.0,239.8L351.3,239.6L351.7,239.4L352.0,239.4L352.3,239.4L352.5,239.5L352.7,239.6L352.9,239.9L353.1,240.2L353.4,240.6L353.4,240.7M357.0,249.6L357.1,249.8L357.6,251.4L358.0,253.0L358.3,254.6L358.6,256.3L358.9,258.1L359.1,259.9L359.3,261.8L359.5,263.6L359.7,265.3L360.0,267.0L360.3,268.7L360.7,270.4L360.9,271.3M362.9,278.7L363.0,279.0L363.3,279.6L363.5,279.8L363.8,279.9L364.0,279.8L364.2,279.5L364.5,279.2L364.7,278.9L365.0,278.6L365.3,278.3L365.7,278.0L366.1,277.6L366.5,277.2L366.9,276.7L367.3,276.2L367.7,275.6L368.0,275.0L368.3,274.3L368.6,273.6L368.8,272.8L369.0,272.0L369.3,271.1L369.5,270.1L369.7,269.2M371.0,263.7L371.2,262.7L371.5,261.2L371.8,259.8L372.1,258.4L372.4,257.0L372.6,255.7L372.9,254.3L373.1,253.0L373.2,251.7L373.4,250.4L373.6,249.2L373.8,248.1L374.0,247.0L374.2,246.1L374.4,245.4L374.6,244.7L374.7,244.5M376.8,230.7L377.0,229.0L377.2,227.3L377.5,225.5L377.7,223.6L378.0,221.7L378.2,219.8L378.5,217.8L378.7,215.9L379.0,214.0M380.1,205.3L380.2,204.2L380.5,202.3L380.8,200.6L381.0,199.0L381.2,197.5L381.5,196.2L381.7,194.9L381.9,193.8L382.2,192.7L382.4,191.7L382.7,190.8L383.0,190.0L383.3,189.3L383.7,188.7L384.0,188.1M390.8,191.8L391.0,192.1L391.3,192.4L391.6,192.7L391.9,193.1L392.1,193.5L392.4,194.0L392.7,194.6L392.9,195.3L393.2,196.1L393.4,196.9L393.7,197.8L393.9,198.6L394.2,199.3L394.4,200.0L394.6,200.6L394.8,201.1L394.9,201.6L395.1,202.0L395.2,202.4L395.4,202.9L395.7,203.4L395.8,203.6M402.6,209.4L402.7,209.4L403.0,209.0L403.3,208.5L403.6,208.0L403.8,207.3L404.1,206.6L404.3,205.8L404.5,205.1L404.8,204.5L405.0,204.0L405.2,203.6L405.5,203.3L405.8,203.0L406.0,202.8L406.2,202.5L406.5,202.4L406.8,202.2L407.0,202.0L407.2,201.8L407.5,201.7L407.8,201.6L408.0,201.6L408.2,201.5L408.5,201.4L408.8,201.2L409.0,201.0L409.3,200.8L409.5,200.6L409.8,200.4L410.0,200.1L410.3,199.8L410.5,199.4L410.8,198.8L411.0,198.0M412.6,185.5L412.8,184.1L413.0,182.7L413.2,181.2L413.4,179.8L413.6,178.4L413.8,177.1L414.0,176.0L414.2,175.0L414.4,174.2L414.6,173.6L414.8,172.9L415.0,172.3L415.2,171.7L415.4,170.9L415.6,170.0L415.8,169.0L415.9,167.9L416.0,167.2M417.5,157.6L417.7,156.9L418.1,155.3L418.5,153.6L418.9,151.9L419.3,150.2L419.7,148.6L420.0,147.0L420.2,145.9M421.9,135.4L422.0,135.0L422.3,134.0L422.6,133.2L422.9,132.5L423.2,131.8L423.5,131.3L423.8,130.8L424.1,130.4L424.4,130.0L424.7,129.6L424.9,129.2L425.2,128.9L425.5,128.6L425.7,128.4L426.0,128.3L426.2,128.3L426.5,128.5L426.8,128.9L427.1,129.4L427.4,130.1L427.7,130.8L428.0,131.7L428.2,132.5L428.5,133.3L428.7,134.0L428.8,134.4M430.5,145.7L430.6,146.6L430.7,147.6L430.9,148.6L431.0,149.5L431.1,150.5L431.2,151.5L431.4,152.5L431.5,153.5L431.6,154.5L431.7,155.5L431.7,156.5L431.8,157.6L431.9,158.5L432.0,159.4L432.2,160.3L432.5,161.0M439.7,160.3L440.1,159.7L440.6,159.0L441.1,158.4L441.5,157.7L441.9,157.1L442.4,156.4L442.8,155.8L443.2,155.2L443.6,154.6L444.0,154.0L444.4,153.4L444.8,152.9L445.2,152.3L445.5,151.8L445.9,151.3L446.3,150.8L446.6,150.4L447.0,150.0L447.4,149.6L447.8,149.3L448.1,148.9L448.5,148.6L448.9,148.4L449.2,148.2L449.6,148.0L449.8,148.0M455.4,155.0L455.7,155.9L455.9,156.8L456.2,157.8L456.4,158.9L456.7,159.9L456.9,161.0L457.2,162.0L457.4,163.0L457.6,163.9L457.8,164.7L458.0,165.5L458.2,166.3L458.4,167.1L458.6,168.0L458.8,168.9L459.0,170.0L459.2,171.3L459.5,172.8L459.5,173.0M461.3,182.4L461.5,182.8L461.8,183.2L462.0,183.4L462.2,183.6L462.5,183.7L462.8,183.8L463.0,184.0L463.3,184.2L463.5,184.3L463.8,184.4L464.0,184.4L464.3,184.5L464.5,184.5L464.8,184.5L465.0,184.4L465.2,184.3L465.5,184.1L465.7,183.9L466.0,183.6L466.2,183.4L466.4,183.2L466.6,183.0L466.8,183.0L467.0,183.0L467.1,183.1L467.3,183.2L467.5,183.4L467.6,183.6L467.7,183.9L467.9,184.2L468.0,184.6L468.1,185.0L468.2,185.5L468.3,185.9L468.4,186.5L468.5,187.1L468.7,187.8L468.8,188.5M471.2,199.2L471.4,200.0L471.7,201.1L472.0,202.2L472.3,203.3L472.6,204.3L473.0,205.3L473.3,206.2L473.6,207.1L474.0,208.0L474.4,208.8L474.8,209.6L475.3,210.4L475.7,211.1L476.1,211.8L476.6,212.5L477.0,213.3L477.4,214.0L477.5,214.2M482.7,226.2L483.0,227.0L483.3,228.0L483.6,229.0L483.9,230.1L484.1,231.2L484.4,232.3L484.6,233.3L484.8,234.2L485.0,235.0L485.2,235.6L485.3,235.9L485.4,236.1L485.4,236.3L485.5,236.5L485.6,236.8L485.8,237.3L486.0,238.0L486.3,239.0L486.3,239.1M489.0,249.0L489.4,250.0L489.8,250.9L490.1,251.7L490.5,252.4L490.9,253.1L491.2,253.8L491.6,254.4L492.0,255.0L492.4,255.6L492.8,256.2L493.2,256.8L493.5,257.3L493.9,257.8L494.3,258.3L494.7,258.7L495.0,259.0L495.3,259.2L495.6,259.2L495.9,259.1L496.2,259.0L496.5,259.0L496.8,259.0L497.1,259.4L497.4,260.0M499.9,271.5L500.0,272.0L500.3,273.4L500.6,274.8L500.8,276.1L501.1,277.4L501.3,278.7L501.6,279.9L501.8,281.0L502.0,282.0L502.2,282.8L502.3,283.5L502.4,284.0L502.5,284.5L502.6,285.0L502.7,285.5L502.8,286.2L502.9,286.5M505.2,297.5L505.3,297.8L505.7,298.4L506.0,299.0L506.4,299.4L506.8,299.8L507.2,300.2L507.6,300.6L508.0,301.0L508.5,301.5L509.0,301.9L509.5,302.4L510.0,302.9L510.5,303.3L511.0,303.6L511.5,303.9L512.0,304.0L512.4,304.0L512.9,303.9L513.3,303.6L513.7,303.3L514.1,303.0L514.4,302.6L514.7,302.3L515.0,302.0L515.2,301.8L515.4,301.7L515.5,301.6L515.5,301.6L515.6,301.4L515.7,301.1L515.8,300.7L516.0,300.0M518.5,289.4L518.6,289.0L518.9,287.8L519.2,286.5L519.5,285.3L519.9,284.1L520.2,283.0L520.5,281.9L520.7,280.9L521.0,280.0L521.2,279.2L521.4,278.5L521.6,277.9L521.8,277.3L522.0,276.8L522.2,276.2L522.4,275.6L522.6,275.0M526.9,265.2L527.0,265.0L527.2,264.6L527.5,264.2L527.7,263.8L527.9,263.5L528.2,263.2L528.4,263.0L528.7,262.9L529.0,263.0L529.3,263.2L529.7,263.6L530.1,264.0L530.4,264.6L530.8,265.2L531.2,265.8L531.6,266.4L532.0,267.0L532.4,267.6L532.8,268.3L533.1,269.0L533.5,269.7L533.9,270.4L534.2,271.0L534.6,271.6L535.0,272.0L535.2,272.2M541.6,264.9L541.8,264.8L542.3,264.8L542.8,265.0L543.2,265.3L543.7,265.8L544.1,266.2L544.6,266.6L545.0,267.0L545.4,267.3L545.8,267.7L546.1,268.1L546.5,268.4L546.8,268.8L547.2,269.2L547.6,269.6L548.0,270.0L548.4,270.3L548.9,270.6L549.4,270.8L549.9,271.0L550.4,271.3L550.9,271.7L551.4,272.2L552.0,273.0L552.3,273.5M557.0,284.0L557.5,284.4L557.9,284.5L558.3,284.4L558.6,284.1L559.0,283.6L559.3,283.1L559.6,282.5L560.0,282.0L560.4,281.4L560.8,280.7L561.2,280.0L561.6,279.1L562.0,278.3L562.4,277.5L562.7,276.7L563.0,276.0L563.2,275.5L563.4,275.0L563.6,274.7L563.8,274.3L563.9,273.9L564.0,273.4L564.2,272.8L564.4,272.0L564.6,271.0M566.8,259.2L566.9,258.8L567.2,257.7L567.4,256.8L567.7,255.8L567.9,254.9L568.2,253.9L568.4,253.0L568.6,252.1L568.8,251.3L568.9,250.5L569.1,249.7L569.3,248.9L569.5,248.0L569.7,247.1L570.0,246.0L570.3,245.0M573.6,235.0L573.9,234.1L574.2,233.4L574.4,232.8L574.7,232.3L574.9,231.8L575.1,231.3L575.3,230.7L575.6,230.0L575.9,229.2L576.2,228.3L576.4,227.4L576.7,226.4L577.0,225.4L577.3,224.4L577.7,223.2L578.0,222.0L578.4,220.7L578.7,219.3L579.0,218.3M581.2,208.8L581.3,208.5L581.5,207.0L581.6,205.5L581.8,204.0L581.9,202.5L582.1,201.0L582.2,199.5L582.4,198.0L582.6,196.5L582.8,194.9L583.0,193.3L583.2,191.8L583.4,190.2L583.6,188.7L583.8,187.3L584.0,186.0L584.2,184.8L584.3,183.8L584.4,182.8L584.5,181.9L584.6,181.0L584.7,180.0L584.9,179.1L585.0,178.0L585.2,176.8L585.3,175.6L585.5,174.4L585.7,173.1L585.8,171.8L586.0,170.5L586.2,169.3L586.4,168.0L586.6,166.8L586.7,166.0M588.0,158.0L588.2,156.7L588.5,155.4L588.8,154.0L589.0,152.7L589.3,151.4L589.5,150.1L589.8,149.0L590.0,148.0L590.2,147.2L590.4,146.4L590.5,145.8L590.7,145.3L590.9,144.8L591.0,144.3L591.1,143.8L591.3,143.2L591.4,142.8M594.2,136.0L594.3,136.1L594.4,136.5L594.6,137.0L594.8,137.6L595.1,138.4L595.4,139.2L595.7,140.2L596.0,141.1L596.4,142.1L596.7,143.1L597.0,144.0L597.3,144.9L597.6,145.8L597.9,146.7L598.2,147.7L598.5,148.6L598.8,149.4L599.2,150.2L599.5,151.0M605.8,158.4L606.1,159.1L606.4,160.0L606.6,160.9L606.8,161.9L607.0,162.9L607.2,163.9L607.4,165.0L607.6,166.0L607.8,167.0L608.0,168.0L608.2,168.9L608.4,169.9L608.6,170.9L608.8,172.0L609.0,173.1L609.2,174.2L609.3,174.9M610.4,184.2L610.5,184.7L610.8,185.9L611.2,187.2L611.6,188.5L612.0,189.7L612.4,190.8L612.9,191.7L613.3,192.3L613.7,192.6L614.1,192.5L614.5,191.9L614.9,191.1L615.3,190.1L615.7,189.0L616.1,188.0L616.4,187.0L616.8,186.3L616.9,186.1M621.6,186.3L622.0,187.2L622.3,188.2L622.8,189.4L623.2,190.7L623.6,191.9L624.0,193.2L624.4,194.3L624.7,195.3L625.0,196.2L625.3,197.0L625.6,197.8L625.8,198.5L626.1,199.1L626.3,199.7L626.6,200.1L626.8,200.5M632.1,190.0L632.4,189.6L632.7,189.3L633.0,189.3L633.2,189.5L633.5,189.7L633.7,190.1L633.9,190.5L634.2,191.0L634.5,191.5L634.7,192.2L635.0,193.0L635.3,193.9L635.5,194.8L635.8,195.7L636.1,196.6L636.3,197.4L636.5,198.2L636.7,198.9L636.9,199.5L637.1,200.2L637.2,201.0L637.4,201.8L637.7,202.7L637.9,203.7M640.5,215.3L640.7,216.6L640.9,217.8L641.1,218.9L641.3,220.1L641.4,221.1L641.6,222.2L641.8,223.1L642.0,224.0L642.2,224.8L642.4,225.4L642.6,225.9L642.8,226.4L643.1,226.9L643.3,227.5L643.6,228.2L644.0,229.0L644.2,229.5M648.4,239.0L648.7,239.9L649.0,240.6L649.2,241.3L649.4,241.9L649.6,242.5L649.7,243.0L649.8,243.5L650.0,244.0L650.2,244.5L650.3,245.0L650.5,245.4L650.6,245.8L650.7,246.2L650.8,246.5L650.9,246.8L651.0,247.0" stroke="#22e022" stroke-width="2.2"/>
</g>
<!-- legend -->
<rect x="442.1" y="1.1" width="231.4" height="90.5" fill="#fff" stroke="#222" stroke-width="1.7"/>
<g fill="none">
<path d="M454.6,18.4H520" stroke="#dc1420" stroke-width="4.4" stroke-dasharray="3.8 2.9"/>
<path d="M454.6,46.2H521.4" stroke="#1212d2" stroke-width="1.8"/>
<path d="M454.6,74H521.4" stroke="#22e022" stroke-width="2.2" stroke-dasharray="16.4 10.2"/>
</g>
<text transform="translate(527.4 26.7) scale(1 1.045)" font-size="19.85" text-anchor="start">Measured COM</text>
<text transform="translate(527.4 54.9) scale(1 1.045)" font-size="19.85" text-anchor="start">Measured COP</text>
<text transform="translate(527.4 82.7) scale(1 1.045)" font-size="19.85" text-anchor="start">Simulated COM</text>
</svg>
</body></html>
